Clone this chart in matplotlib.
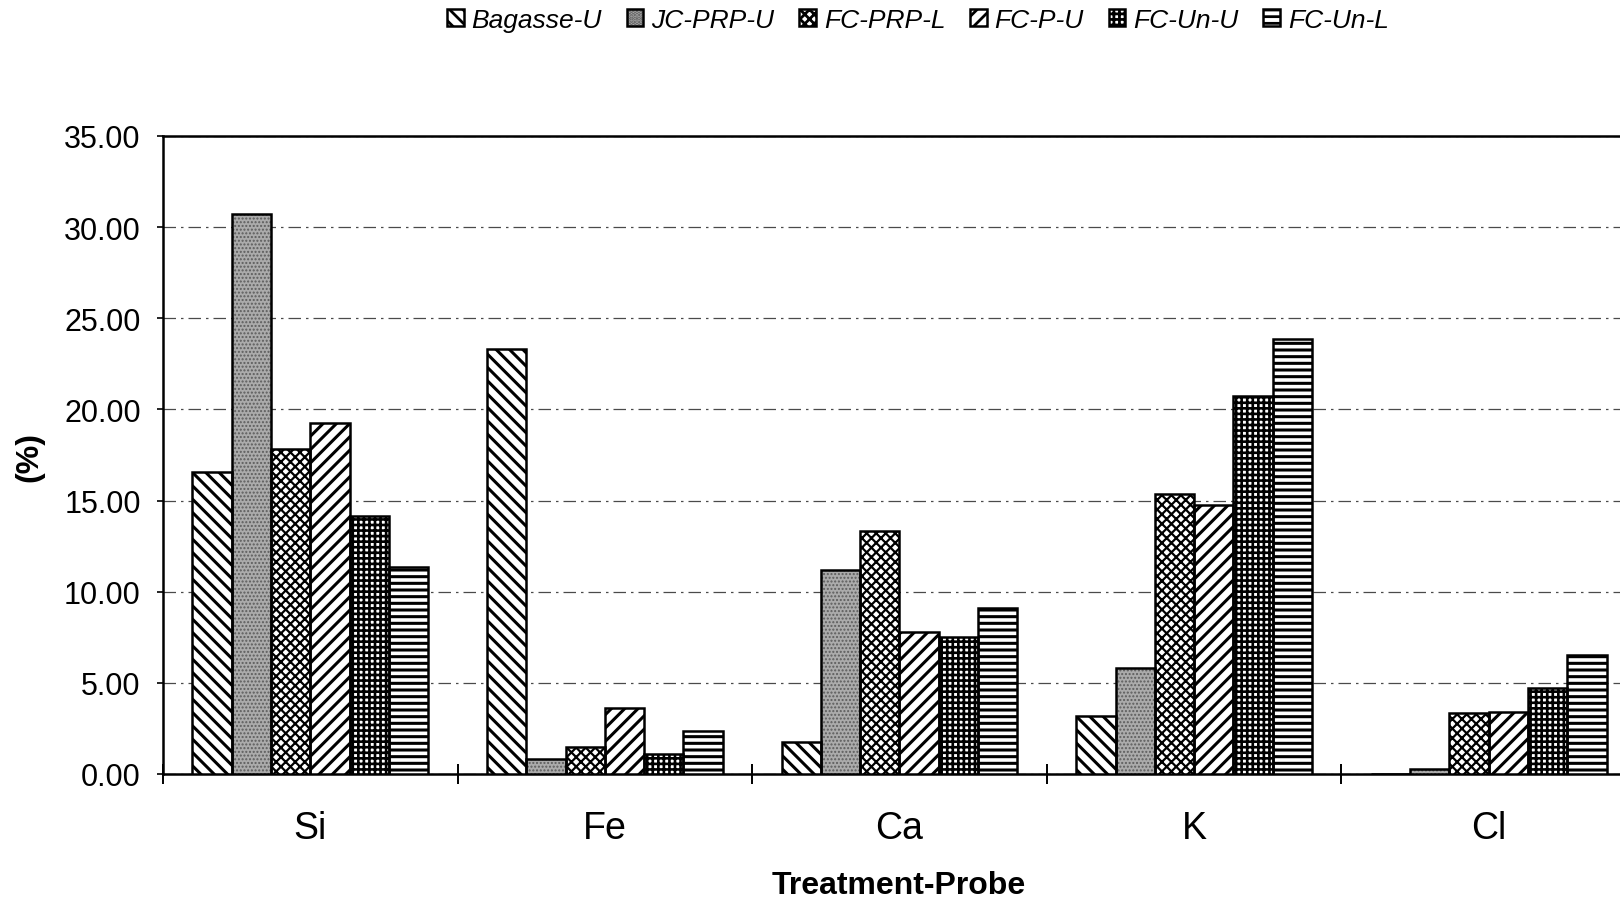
import numpy as np
import matplotlib as mpl
import matplotlib.pyplot as plt
from matplotlib.ticker import FormatStrFormatter

plt.rcParams['font.family'] = ['Liberation Sans', 'DejaVu Sans']

elements = ['Si', 'Fe', 'Ca', 'K', 'Cl']
series = ['Bagasse-U', 'JC-PRP-U', 'FC-PRP-L', 'FC-P-U', 'FC-Un-U', 'FC-Un-L']

bagasse_u = [16.56, 23.31, 1.76, 3.18, 0.0]
jc_prp_u = [30.74, 0.85, 11.17, 5.84, 0.25]
fc_prp_l = [17.81, 1.47, 13.33, 15.37, 3.35]
fc_p_u = [19.23, 3.63, 7.77, 14.75, 3.40]
fc_un_u = [14.18, 1.08, 7.49, 20.76, 4.71]
fc_un_l = [11.34, 2.38, 9.13, 23.88, 6.52]
values = [bagasse_u, jc_prp_u, fc_prp_l, fc_p_u, fc_un_u, fc_un_l]

# (face colour, hatch colour, hatch pattern, hatch line width) per series
styles = [
    ('white', 'black', '\\\\\\\\\\', 1.1),
    ('#ababab', '#5c5c5c', '.........', 0.5),
    ('white', 'black', 'xxxxxxx', 0.8),
    ('white', 'black', '/////', 1.1),
    ('white', 'black', '++++++', 0.95),
    ('white', 'black', '-----', 1.1),
]

fig = plt.figure(figsize=(8.1, 4.515), dpi=200)
ax = fig.add_axes([163 / 1620, 1 - 775 / 903, 1473 / 1620, 638 / 903])

x = np.arange(len(elements))
width = 0.8 / len(series)
handles = []
for i, (name, vals, (fc, hc, hatch, hlw)) in enumerate(zip(series, values, styles)):
    pos = x + (i - 2.5) * width
    with mpl.rc_context({'hatch.linewidth': hlw}):
        fill = ax.bar(pos, vals, width, facecolor=fc, edgecolor=hc, hatch=hatch,
                      linewidth=0, zorder=3)
    edge = ax.bar(pos, vals, width, fill=False, edgecolor='black',
                  linewidth=0.9, zorder=4)
    handles.append((fill[0], edge[0]))

ax.set_xlim(-0.5, len(elements) - 0.5)
ax.set_ylim(0, 35)
ax.set_yticks(np.arange(0, 36, 5))
ax.yaxis.set_major_formatter(FormatStrFormatter('%.2f'))
ax.tick_params(axis='y', labelsize=11, length=2, width=0.6, pad=6)

# boundary ticks between groups, labels at group centres
ax.set_xticks(np.arange(-0.5, len(elements) - 0.5, 1.0))
ax.set_xticklabels([])
ax.set_xticks(x, minor=True)
ax.set_xticklabels(elements, minor=True, fontsize=13.5)
ax.tick_params(axis='x', which='major', direction='inout', length=7, width=0.7)
ax.tick_params(axis='x', which='minor', length=0, pad=13)

ax.yaxis.grid(True, color='#4a4a4a', linewidth=0.45,
              linestyle=(0, (10, 4, 2, 4)), zorder=1)
for s in ax.spines.values():
    s.set_linewidth(0.9)

fig.text(899 / 1620, 1 - 886 / 903, 'Treatment-Probe', fontsize=11.5,
         fontweight='bold', ha='center', va='center')
fig.text(29 / 1620, 1 - 457 / 903, '(%)', fontsize=11.5, fontweight='bold',
         rotation=90, ha='center', va='center')

fig.legend(handles=handles, labels=series, loc='center',
           bbox_to_anchor=(918 / 1620, 1 - 21 / 903),
           ncol=6, frameon=False, prop={'style': 'italic', 'size': 9.5},
           handlelength=0.62, handleheight=0.62, handletextpad=0.3,
           columnspacing=0.95)

fig.savefig('out.png', dpi=200, facecolor='white')
